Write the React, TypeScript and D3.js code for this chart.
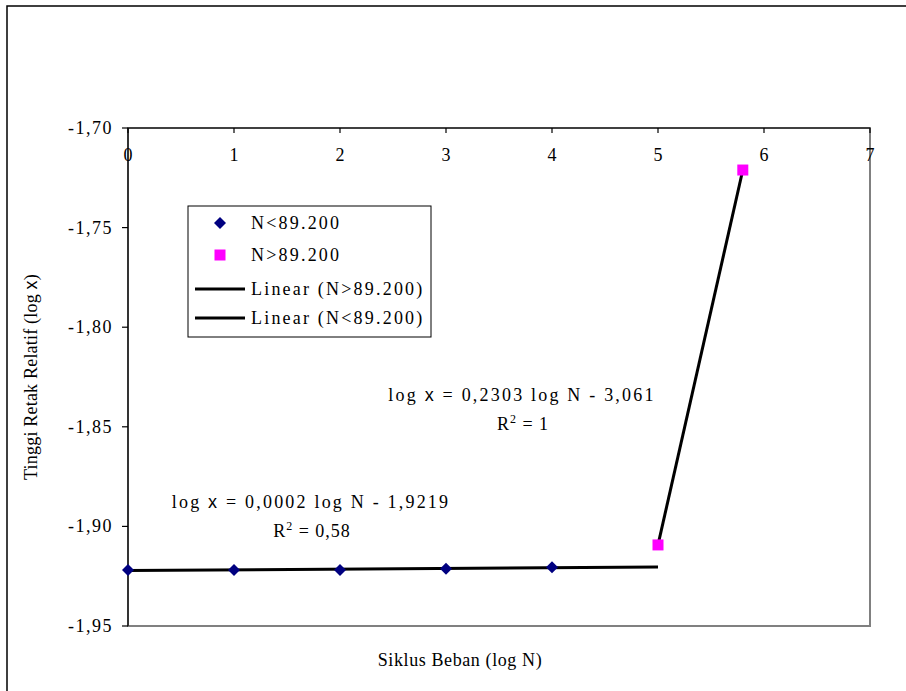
import React from "react";
import * as d3 from "d3";

const xTicks = [0, 1, 2, 3, 4, 5, 6, 7];
const yTicks = [-1.7, -1.75, -1.8, -1.85, -1.9, -1.95];

const lowX = [0, 1, 2, 3, 4];
const lowY = [-1.9219, -1.9219, -1.9219, -1.9212, -1.9205];
const highX = [5, 5.8];
const highY = [-1.9093, -1.7211];

const lowName = "N<89.200";
const highName = "N>89.200";
const eqHigh = ["0,2303", "3,061", "1"];
const eqLow = ["0,0002", "1,9219", "0,58"];

function fit(xs: number[], ys: number[]) {
  const mx = d3.mean(xs)!;
  const my = d3.mean(ys)!;
  const sxy = d3.sum(xs, (x, i) => (x - mx) * (ys[i] - my));
  const sxx = d3.sum(xs, (x) => (x - mx) * (x - mx));
  const b = sxy / sxx;
  return { a: my - b * mx, b };
}

const FONT = "'Liberation Serif', 'Times New Roman', serif";
const SANS = "'Liberation Sans', Arial, sans-serif";

export default function App() {
  const W = 906, H = 691;
  const L = 128, R = 870, T = 128, B = 626;
  const x = d3.scaleLinear().domain([0, 7]).range([L, R]);
  const y = d3.scaleLinear().domain([-1.95, -1.7]).range([B, T]);

  const lowFit = fit(lowX, lowY);
  const highFit = fit(highX, highY);
  const line = d3.line<[number, number]>().x((d) => x(d[0])).y((d) => y(d[1]));
  const lowLine: [number, number][] = [0, 5].map((v) => [v, lowFit.a + lowFit.b * v]);
  const highLine: [number, number][] = [5, 5.8].map((v) => [v, highFit.a + highFit.b * v]);

  const diamond = "M0,-6L6,0L0,6L-6,0Z";
  const fs = 18;
  const ls = 2.2;
  const fmt = (t: number) => d3.format(".2f")(t).replace(".", ",").replace("\u2212", "-");

  return (
    <svg width={W} height={H} style={{ position: "absolute", left: 0, top: 0 }} fontFamily={FONT}>
      <rect x={0} y={0} width={W} height={H} fill="#fff" />
      <rect x={7} y={6} width={1000} height={1000} fill="none" stroke="#000" strokeWidth={1.5} />
      <rect x={L} y={T} width={R - L} height={B - T} fill="none" stroke="#808080" strokeWidth={2} />
      {/* top x axis */}
      <line x1={L} x2={R} y1={T} y2={T} stroke="#000" strokeWidth={1.2} />
      {xTicks.map((t) => (
        <g key={t}>
          <line x1={x(t)} x2={x(t)} y1={T} y2={T + 5} stroke="#000" strokeWidth={1.2} />
          <text x={x(t)} y={161} textAnchor="middle" fontSize={fs}>
            {t}
          </text>
        </g>
      ))}
      {/* left y axis */}
      <line x1={L} x2={L} y1={T} y2={B} stroke="#000" strokeWidth={1.2} />
      {yTicks.map((t) => (
        <g key={t}>
          <line x1={L - 6} x2={L} y1={y(t)} y2={y(t)} stroke="#000" strokeWidth={1.2} />
          <text x={113} y={y(t) + 6} textAnchor="end" fontSize={fs} letterSpacing={1.5}>
            {fmt(t)}
          </text>
        </g>
      ))}
      {/* trendlines */}
      <path d={line(lowLine)!} stroke="#000" strokeWidth={3} fill="none" />
      <path d={line(highLine)!} stroke="#000" strokeWidth={3} fill="none" />
      {/* points */}
      {lowX.map((v, i) => (
        <path key={i} d={diamond} transform={`translate(${x(v)},${y(lowY[i])})`} fill="#000080" />
      ))}
      {highX.map((v, i) => (
        <rect key={i} x={x(v) - 5.5} y={y(highY[i]) - 5.5} width={11} height={11} fill="#FF00FF" />
      ))}
      {/* equations */}
      <text x={522} y={401} textAnchor="middle" fontSize={fs} letterSpacing={ls}>
        log <tspan fontFamily={SANS}>x</tspan> = {eqHigh[0]} log N - {eqHigh[1]}
      </text>
      <text x={523} y={430} textAnchor="middle" fontSize={fs} letterSpacing={1}>
        R<tspan fontSize={12} dy={-7}>2</tspan><tspan dy={7}> = {eqHigh[2]}</tspan>
      </text>
      <text x={311} y={508} textAnchor="middle" fontSize={fs} letterSpacing={ls}>
        log <tspan fontFamily={SANS}>x</tspan> = {eqLow[0]} log N - {eqLow[1]}
      </text>
      <text x={312} y={537} textAnchor="middle" fontSize={fs} letterSpacing={1}>
        R<tspan fontSize={12} dy={-7}>2</tspan><tspan dy={7}> = {eqLow[2]}</tspan>
      </text>
      {/* legend */}
      <rect x={188} y={206} width={243} height={131} fill="#fff" stroke="#000" strokeWidth={1} />
      <path d={diamond} transform="translate(220,223)" fill="#000080" />
      <text x={251} y={229} fontSize={fs} letterSpacing={ls}>{lowName}</text>
      <rect x={214.5} y={249.5} width={11} height={11} fill="#FF00FF" />
      <text x={251} y={261} fontSize={fs} letterSpacing={ls}>{highName}</text>
      <line x1={195} x2={245} y1={289} y2={289} stroke="#000" strokeWidth={3} />
      <text x={251} y={295} fontSize={fs} letterSpacing={ls}>{`Linear (${highName})`}</text>
      <line x1={195} x2={245} y1={318} y2={318} stroke="#000" strokeWidth={3} />
      <text x={251} y={324} fontSize={fs} letterSpacing={ls}>{`Linear (${lowName})`}</text>
      {/* axis titles */}
      <text x={460} y={666} textAnchor="middle" fontSize={fs} letterSpacing={0.6}>
        Siklus Beban (log N)
      </text>
      <text
        transform={`translate(37,${(T + B) / 2}) rotate(-90)`}
        textAnchor="middle"
        fontSize={fs}
        letterSpacing={0.2}
      >
        Tinggi Retak Relatif (log <tspan fontFamily={SANS}>x</tspan>)
      </text>
    </svg>
  );
}
